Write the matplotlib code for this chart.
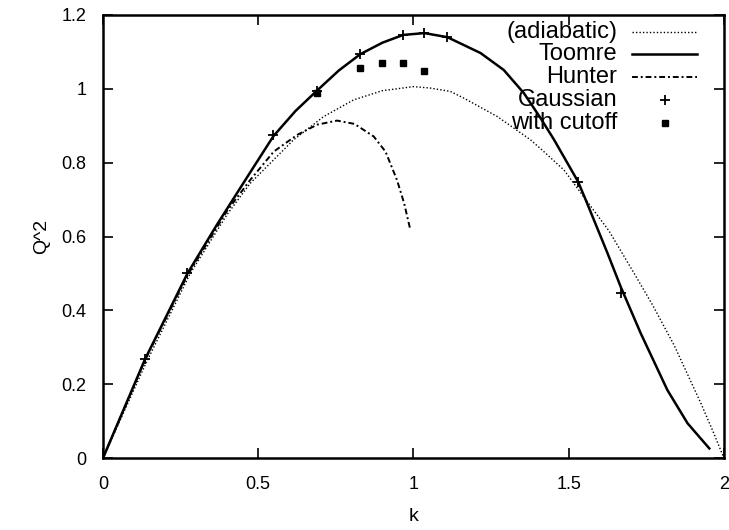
import matplotlib
matplotlib.use("Agg")
import matplotlib.pyplot as plt

plt.rcParams['font.family'] = ['Liberation Sans', 'DejaVu Sans']

# curves
k_adiab = [0.0, 0.14, 0.281, 0.40, 0.474, 0.614, 0.711, 0.807, 0.90, 1.0, 1.055, 1.119,
           1.162, 1.27, 1.377, 1.42, 1.485, 1.555, 1.63, 1.711, 1.77, 1.84, 1.88, 1.926,
           1.965, 2.0]
q_adiab = [0.0, 0.26, 0.50, 0.66, 0.744, 0.862, 0.925, 0.97, 0.995, 1.006, 1.002, 0.993,
           0.975, 0.925, 0.862, 0.83, 0.78, 0.70, 0.615, 0.50, 0.415, 0.305, 0.232, 0.148,
           0.072, 0.0]

k_toomre = [0.0, 0.135, 0.272, 0.367, 0.469, 0.549, 0.62, 0.689, 0.76, 0.829, 0.90, 0.967,
            1.035, 1.109, 1.216, 1.291, 1.356, 1.41, 1.453, 1.53, 1.555, 1.625, 1.668,
            1.732, 1.818, 1.883, 1.953]
q_toomre = [0.0, 0.267, 0.50, 0.632, 0.767, 0.872, 0.94, 0.995, 1.05, 1.094, 1.125, 1.146,
            1.151, 1.14, 1.097, 1.051, 0.988, 0.92, 0.862, 0.749, 0.699, 0.555, 0.463,
            0.338, 0.184, 0.094, 0.026]

k_hunter = [0.0, 0.135, 0.272, 0.40, 0.474, 0.55, 0.625, 0.69, 0.754, 0.81, 0.872, 0.91,
            0.947, 0.97, 0.99]
q_hunter = [0.0, 0.265, 0.495, 0.67, 0.753, 0.83, 0.875, 0.903, 0.914, 0.905, 0.871, 0.83,
            0.753, 0.69, 0.618]

k_gauss = [0.135, 0.272, 0.549, 0.689, 0.829, 0.967, 1.035, 1.109, 1.53, 1.668]
q_gauss = [0.267, 0.50, 0.875, 0.995, 1.094, 1.146, 1.151, 1.14, 0.749, 0.446]

k_cut = [0.689, 0.829, 0.899, 0.967, 1.035]
q_cut = [0.99, 1.056, 1.071, 1.07, 1.047]

xticks = [0, 0.5, 1, 1.5, 2]
xlabels = ['0', '0.5', '1', '1.5', '2']
yticks = [0, 0.2, 0.4, 0.6, 0.8, 1.0, 1.2]
ylabels = ['0', '0.2', '0.4', '0.6', '0.8', '1', '1.2']

styles = {
    '(adiabatic)': dict(color='black', lw=1.0, ls=(0, (1, 1.5))),
    'Toomre': dict(color='black', lw=1.8, ls='-'),
    'Hunter': dict(color='black', lw=1.4, ls=(0, (3, 1.5, 1, 1.5))),
    'Gaussian': dict(ls='none', marker='+', ms=7, mew=1.3, color='black'),
    'with cutoff': dict(ls='none', marker='s', ms=5, color='black'),
}

fig = plt.figure(figsize=(7.29, 5.30), dpi=100)
ax = fig.add_axes([0.1413, 0.1358, 0.8517, 0.8359])

ax.plot(k_adiab, q_adiab, **styles['(adiabatic)'])
ax.plot(k_toomre, q_toomre, **styles['Toomre'])
ax.plot(k_hunter, q_hunter, **styles['Hunter'])
ax.plot(k_gauss, q_gauss, **styles['Gaussian'])
ax.plot(k_cut, q_cut, **styles['with cutoff'])

ax.set_xlim(0, 2)
ax.set_ylim(0, 1.2)
ax.set_xticks(xticks)
ax.set_xticklabels(xlabels)
ax.set_yticks(yticks)
ax.set_yticklabels(ylabels)
ax.tick_params(direction='in', length=7, width=1.2, top=True, right=True, labelsize=13)
ax.tick_params(axis='x', pad=13)
ax.tick_params(axis='y', pad=12)
for s in ax.spines.values():
    s.set_linewidth(1.8)

ax.set_xlabel('k', fontsize=14, labelpad=11)
ax.set_ylabel('Q^2', fontsize=14, labelpad=8)

# legend like gnuplot: right-aligned text, sample on the right
leg_y = [0.962, 0.912, 0.860, 0.808, 0.756]
for name, y in zip(styles, leg_y):
    ax.text(0.828, y, name, transform=ax.transAxes, ha='right', va='center', fontsize=17)
    st = styles[name]
    if st['ls'] == 'none':
        ax.plot([0.905], [y], transform=ax.transAxes, **st)
    else:
        ax.plot([0.852, 0.957], [y, y], transform=ax.transAxes, **st)

fig.savefig('out.png', dpi=100)
